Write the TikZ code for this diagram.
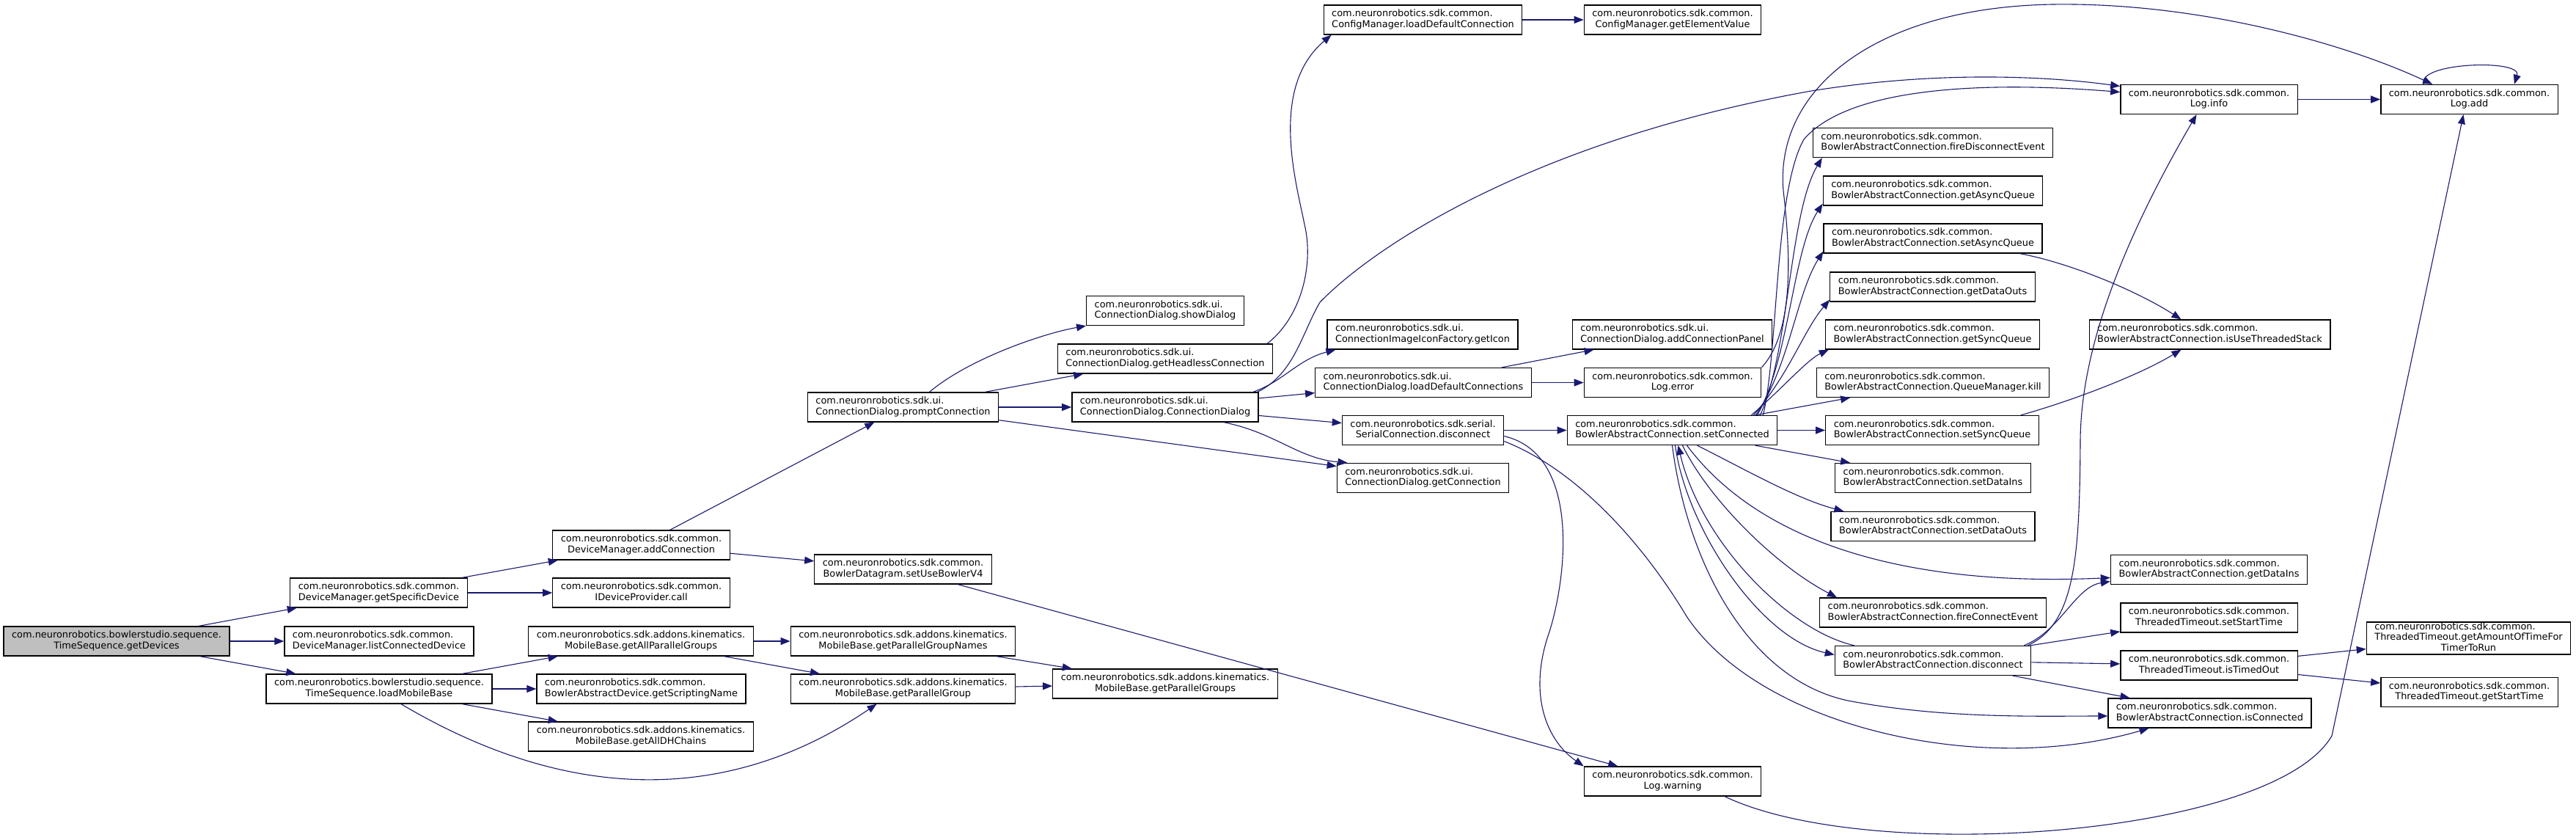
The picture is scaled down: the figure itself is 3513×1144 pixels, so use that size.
\documentclass[tikz,border=0pt]{standalone}
\usepackage{fontspec}
\setmainfont{DejaVu Sans}
\usetikzlibrary{arrows.meta}
\definecolor{callblue}{HTML}{191970}
\newcommand{\fnlabel}[2]{\vbox{\halign{##\cr\strut#1\hfil\cr\hfil\strut#2\hfil\cr}}}
\newcommand{\fnlabeliii}[3]{\vbox{\halign{##\cr\strut#1\hfil\cr\hfil\strut#2\hfil\cr\hfil\strut#3\hfil\cr}}}

\begin{document}
\begin{tikzpicture}[x=1pt,y=-1pt,
  fn/.style={draw=black,line width=1.3pt,fill=white,inner xsep=11pt,inner ysep=0pt,minimum height=40pt,font=\fontsize{12.9pt}{14.6pt}\selectfont},
  root/.style={fn,fill=black!25},
  call/.style={draw=callblue,line width=1.1pt,-{Triangle[length=13pt,width=10pt]}}]
\useasboundingbox (0,0) rectangle (3513,1144);
\node[root] (gd) at (159,874) {\fnlabel{com.neuronrobotics.bowlerstudio.sequence.}{TimeSequence.getDevices}};
\node[fn] (gsd) at (516.5,808) {\fnlabel{com.neuronrobotics.sdk.common.}{DeviceManager.getSpecificDevice}};
\node[fn] (lcd) at (517,874) {\fnlabel{com.neuronrobotics.sdk.common.}{DeviceManager.listConnectedDevice}};
\node[fn] (lmb) at (517,939) {\fnlabel{com.neuronrobotics.bowlerstudio.sequence.}{TimeSequence.loadMobileBase}};
\node[fn] (ac) at (874.5,743) {\fnlabel{com.neuronrobotics.sdk.common.}{DeviceManager.addConnection}};
\node[fn] (idp) at (874.5,808) {\fnlabel{com.neuronrobotics.sdk.common.}{IDeviceProvider.call}};
\node[fn] (gapg) at (874,874) {\fnlabel{com.neuronrobotics.sdk.addons.kinematics.}{MobileBase.getAllParallelGroups}};
\node[fn] (gsn) at (874.5,939) {\fnlabel{com.neuronrobotics.sdk.common.}{BowlerAbstractDevice.getScriptingName}};
\node[fn] (gadh) at (874,1004) {\fnlabel{com.neuronrobotics.sdk.addons.kinematics.}{MobileBase.getAllDHChains}};
\node[fn] (pc) at (1231.5,555) {\fnlabel{com.neuronrobotics.sdk.ui.}{ConnectionDialog.promptConnection}};
\node[fn] (sub) at (1231.5,776) {\fnlabel{com.neuronrobotics.sdk.common.}{BowlerDatagram.setUseBowlerV4}};
\node[fn] (gpgn) at (1231.5,874) {\fnlabel{com.neuronrobotics.sdk.addons.kinematics.}{MobileBase.getParallelGroupNames}};
\node[fn] (gpg) at (1231.5,939) {\fnlabel{com.neuronrobotics.sdk.addons.kinematics.}{MobileBase.getParallelGroup}};
\node[fn] (sd) at (1589,423.5) {\fnlabel{com.neuronrobotics.sdk.ui.}{ConnectionDialog.showDialog}};
\node[fn] (ghc) at (1589,489) {\fnlabel{com.neuronrobotics.sdk.ui.}{ConnectionDialog.getHeadlessConnection}};
\node[fn] (cd) at (1589,555) {\fnlabel{com.neuronrobotics.sdk.ui.}{ConnectionDialog.ConnectionDialog}};
\node[fn] (gpgs) at (1589,932) {\fnlabel{com.neuronrobotics.sdk.addons.kinematics.}{MobileBase.getParallelGroups}};
\node[fn] (ldc) at (1940.5,27) {\fnlabel{com.neuronrobotics.sdk.common.}{ConfigManager.loadDefaultConnection}};
\node[fn] (gi) at (1940,456) {\fnlabel{com.neuronrobotics.sdk.ui.}{ConnectionImageIconFactory.getIcon}};
\node[fn] (ldcs) at (1941,521.5) {\fnlabel{com.neuronrobotics.sdk.ui.}{ConnectionDialog.loadDefaultConnections}};
\node[fn] (scd) at (1940.5,586.5) {\fnlabel{com.neuronrobotics.sdk.serial.}{SerialConnection.disconnect}};
\node[fn] (gc) at (1940.5,651.5) {\fnlabel{com.neuronrobotics.sdk.ui.}{ConnectionDialog.getConnection}};
\node[fn] (gev) at (2281,27) {\fnlabel{com.neuronrobotics.sdk.common.}{ConfigManager.getElementValue}};
\node[fn] (acp) at (2280.5,456) {\fnlabel{com.neuronrobotics.sdk.ui.}{ConnectionDialog.addConnectionPanel}};
\node[fn] (le) at (2281,521.5) {\fnlabel{com.neuronrobotics.sdk.common.}{Log.error}};
\node[fn] (sc) at (2280.5,586.5) {\fnlabel{com.neuronrobotics.sdk.common.}{BowlerAbstractConnection.setConnected}};
\node[fn] (lw) at (2281,1065) {\fnlabel{com.neuronrobotics.sdk.common.}{Log.warning}};
\node[fn] (li) at (3012.5,135.5) {\fnlabel{com.neuronrobotics.sdk.common.}{Log.info}};
\node[fn] (la) at (3367.5,135.5) {\fnlabel{com.neuronrobotics.sdk.common.}{Log.add}};
\node[fn] (fde) at (2636,194.5) {\fnlabel{com.neuronrobotics.sdk.common.}{BowlerAbstractConnection.fireDisconnectEvent}};
\node[fn] (gaq) at (2636,260) {\fnlabel{com.neuronrobotics.sdk.common.}{BowlerAbstractConnection.getAsyncQueue}};
\node[fn] (saq) at (2636,325) {\fnlabel{com.neuronrobotics.sdk.common.}{BowlerAbstractConnection.setAsyncQueue}};
\node[fn] (gdo) at (2635.5,391) {\fnlabel{com.neuronrobotics.sdk.common.}{BowlerAbstractConnection.getDataOuts}};
\node[fn] (gsq) at (2635.5,456) {\fnlabel{com.neuronrobotics.sdk.common.}{BowlerAbstractConnection.getSyncQueue}};
\node[fn] (qmk) at (2636,521.5) {\fnlabel{com.neuronrobotics.sdk.common.}{BowlerAbstractConnection.QueueManager.kill}};
\node[fn] (ssq) at (2635,586.5) {\fnlabel{com.neuronrobotics.sdk.common.}{BowlerAbstractConnection.setSyncQueue}};
\node[fn] (sdi) at (2636,651.5) {\fnlabel{com.neuronrobotics.sdk.common.}{BowlerAbstractConnection.setDataIns}};
\node[fn] (sdo) at (2636,717.5) {\fnlabel{com.neuronrobotics.sdk.common.}{BowlerAbstractConnection.setDataOuts}};
\node[fn] (fce) at (2636,835) {\fnlabel{com.neuronrobotics.sdk.common.}{BowlerAbstractConnection.fireConnectEvent}};
\node[fn] (bd) at (2636,900.5) {\fnlabel{com.neuronrobotics.sdk.common.}{BowlerAbstractConnection.disconnect}};
\node[fn] (iuts) at (3013.5,456) {\fnlabel{com.neuronrobotics.sdk.common.}{BowlerAbstractConnection.isUseThreadedStack}};
\node[fn] (gdi) at (3012.5,776.5) {\fnlabel{com.neuronrobotics.sdk.common.}{BowlerAbstractConnection.getDataIns}};
\node[fn] (sst) at (3012.5,842) {\fnlabel{com.neuronrobotics.sdk.common.}{ThreadedTimeout.setStartTime}};
\node[fn] (ito) at (3012.5,907) {\fnlabel{com.neuronrobotics.sdk.common.}{ThreadedTimeout.isTimedOut}};
\node[fn] (ic) at (3013.5,972) {\fnlabel{com.neuronrobotics.sdk.common.}{BowlerAbstractConnection.isConnected}};
\node[fn] (gat) at (3366.5,870) {\fnlabeliii{com.neuronrobotics.sdk.common.}{ThreadedTimeout.getAmountOfTimeFor}{TimerToRun}};
\node[fn] (gst) at (3367.5,943.5) {\fnlabel{com.neuronrobotics.sdk.common.}{ThreadedTimeout.getStartTime}};
\draw[call] (gd) -- (gsd);
\draw[call] (gd) -- (lcd);
\draw[call] (gd) -- (lmb);
\draw[call] (gsd) -- (ac);
\draw[call] (gsd) -- (idp);
\draw[call] (lmb) -- (gapg);
\draw[call] (lmb) -- (gsn);
\draw[call] (lmb) -- (gadh);
\draw[call] ([xshift=30pt]lmb.south) .. controls (777,1096) and (995,1096) .. ([xshift=-36pt]gpg.south);
\draw[call] (ac) -- (pc);
\draw[call] (ac) -- (sub);
\draw[call] (gapg) -- (gpgn);
\draw[call] (gapg) -- (gpg);
\draw[call] (gpgn) -- (gpgs);
\draw[call] (gpg) -- (gpgs);
\draw[call] ([xshift=36pt]pc.north) .. controls (1320,490) and (1420,455) .. (sd.south west);
\draw[call] (pc) -- (ghc);
\draw[call] (pc) -- (cd);
\draw[call] (pc) -- (gc);
\draw[call] ([xshift=-8pt]ghc.north east) .. controls (1775,432) and (1792,360) .. (1779,306) .. controls (1768,250) and (1730,120) .. ([xshift=11pt]ldc.south west);
\draw[call] ([xshift=-2pt]cd.north east) .. controls (1765,510) and (1775,455) .. (1800,412) .. controls (1880,330) and (2100,190) .. (2470,124) .. controls (2650,95) and (2800,105) .. ([yshift=18pt]li.west);
\draw[call] ([xshift=-8pt]cd.north east) .. controls (1750,520) and (1770,490) .. ([xshift=12pt]gi.south west);
\draw[call] (cd) -- (ldcs);
\draw[call] (cd) -- (scd);
\draw[call] ([xshift=80pt]cd.south) .. controls (1740,590) and (1770,625) .. ([xshift=-103pt]gc.north);
\draw[call] (ldc) -- (gev);
\draw[call] (ldcs) -- (acp);
\draw[call] (ldcs) -- (le);
\draw[call] (scd) -- (sc);
\draw[call] ([yshift=-8pt]scd.east) .. controls (2160,620) and (2135,800) .. (2110,870) .. controls (2085,950) and (2110,1010) .. (lw.north west);
\draw[call] ([yshift=-15pt]scd.east) .. controls (2150,640) and (2240,740) .. (2300,840) .. controls (2400,990) and (2700,1060) .. ([xshift=-83pt]ic.south);
\draw[call] (sub) -- (lw);
\draw[call] (le.north east) .. controls (2450,450) and (2440,330) .. (2432,260) .. controls (2420,120) and (2560,10) .. (2799,6) .. controls (3000,3) and (3200,60) .. ([xshift=71pt]la.north west);
\draw[call] ([xshift=-20pt]sc.north east) .. controls (2425,480) and (2420,260) .. (2460,190) .. controls (2520,120) and (2700,110) .. ([yshift=10pt]li.west);
\draw[call] ([xshift=-24pt]sc.north east) .. controls (2440,480) and (2440,290) .. ([xshift=13pt]fde.south west);
\draw[call] ([xshift=-28pt]sc.north east) .. controls (2440,490) and (2445,340) .. ([yshift=3pt]gaq.south west);
\draw[call] ([xshift=-30pt]sc.north east) .. controls (2440,500) and (2450,400) .. ([yshift=3pt]saq.south west);
\draw[call] ([xshift=-33pt]sc.north east) .. controls (2440,510) and (2460,450) .. ([yshift=3pt]gdo.south west);
\draw[call] ([xshift=-36pt]sc.north east) .. controls (2430,530) and (2465,490) .. ([xshift=5pt]gsq.south west);
\draw[call] (sc) -- (qmk);
\draw[call] (sc) -- (ssq);
\draw[call] (sc) -- (sdi);
\draw[call] ([xshift=34pt]sc.south) .. controls (2380,640) and (2450,680) .. ([xshift=18pt]sdo.north west);
\draw[call] ([xshift=20pt]sc.south) .. controls (2400,740) and (2600,800) .. ([yshift=-11pt]gdi.west);
\draw[call] ([xshift=14pt]sc.south) .. controls (2330,680) and (2420,770) .. ([xshift=24pt]fce.north west);
\draw[call] ([xshift=4pt]sc.south) .. controls (2300,720) and (2400,870) .. ([yshift=8pt]bd.west);
\draw[call] ([xshift=27pt]bd.north west) .. controls (2440,860) and (2320,740) .. ([xshift=8pt]sc.south);
\draw[call] (sc.south) .. controls (2300,760) and (2380,925) .. (2520,955) .. controls (2650,980) and (2780,976) .. ([yshift=-4pt]ic.west);
\draw[call] ([xshift=-31pt]saq.south east) .. controls (2830,360) and (2920,400) .. ([xshift=-39pt]iuts.north);
\draw[call] ([xshift=-25pt]ssq.north east) .. controls (2830,545) and (2920,510) .. ([xshift=-39pt]iuts.south);
\draw[call] ([xshift=-10pt]bd.north east) .. controls (2810,860) and (2830,800) .. ([yshift=-16pt]gdi.west);
\draw[call] ([xshift=-5pt]bd.north east) .. controls (2830,850) and (2836,760) .. (2837,600) .. controls (2838,470) and (2900,320) .. ([xshift=-17pt]li.south);
\draw[call] (bd) -- (sst);
\draw[call] (bd) -- (ito);
\draw[call] (bd) -- (ic);
\draw[call] (ito) -- (gat);
\draw[call] (ito) -- (gst);
\draw[call] (li) -- (la);
\draw[call] ([xshift=59pt]la.north west) .. controls (3295,85) and (3440,80) .. ([xshift=-60pt]la.north east);
\draw[call] ([xshift=71pt]lw.south) .. controls (2550,1180) and (3100,1140) .. (3180,1003) -- ([xshift=-8pt]la.south);
\end{tikzpicture}
\end{document}
